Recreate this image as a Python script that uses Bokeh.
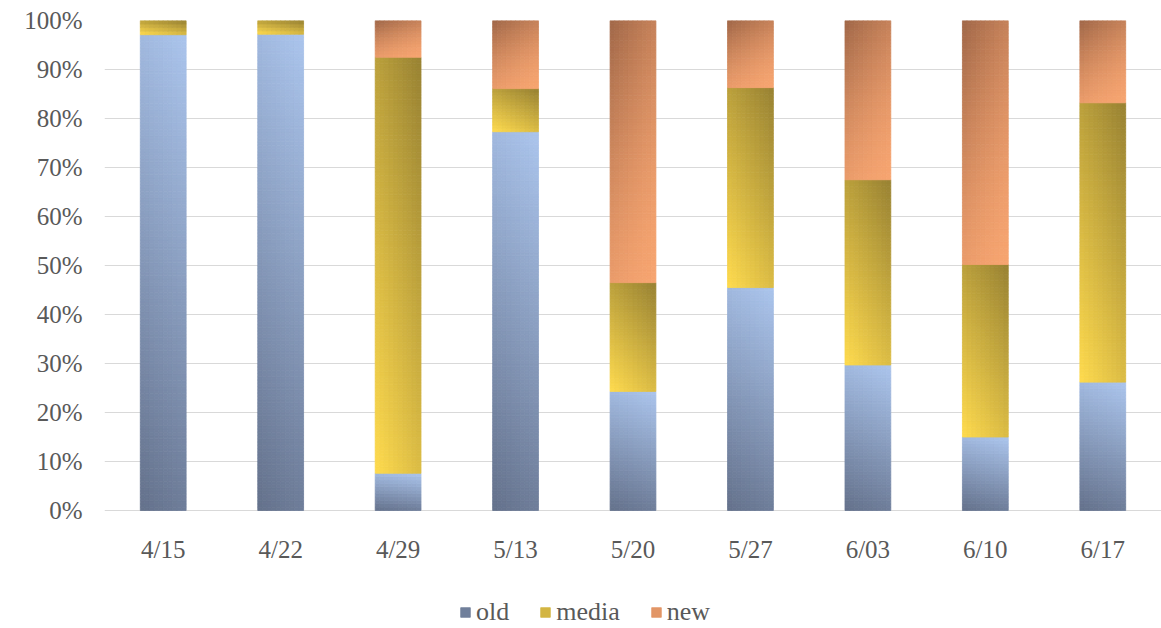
from bokeh.plotting import figure
from bokeh.models import (Range1d, FixedTicker, NumeralTickFormatter, Legend,
                          LegendItem, ColumnDataSource)
from bokeh.embed import file_html
from bokeh.resources import INLINE

# Weekly share of each group (percent of the week's total)
weeks = ["4/15", "4/22", "4/29", "5/13", "5/20", "5/27", "6/03", "6/10", "6/17"]
old = [97.1, 97.2, 7.6, 77.3, 24.3, 45.5, 29.7, 15.0, 26.2]
media = [2.9, 2.8, 84.9, 8.8, 22.2, 40.8, 37.8, 35.2, 57.0]
new = [0.0, 0.0, 7.5, 13.9, 53.5, 13.7, 32.5, 49.8, 16.8]

series = ["old", "media", "new"]
values = {"old": old, "media": media, "new": new}

BAR_WIDTH = 0.39
COLS = 10
# the plotting frame reaches down to the page bottom so that the week labels
# and the legend can live inside it, below the 0% line
PLOT_PX = 490
BELOW_PX = 118

# gradient stops per series: (colour at t=0, colour at t=1)
STOPS = {
    "old": ((0x64, 0x71, 0x8b), (0xab, 0xc5, 0xed)),
    "media": ((0xff, 0xdb, 0x4e), (0x98, 0x82, 0x33)),
    "new": ((0xf6, 0xa4, 0x70), (0xa0, 0x67, 0x48)),
}


def blend(stops, t):
    a, b = stops
    t = min(max(t, 0.0), 1.0)
    r, g, bl = (int(round(a[i] + (b[i] - a[i]) * t)) for i in range(3))
    return "#%02x%02x%02x" % (r, g, bl)


def shade(name, u, v):
    # u: 0 left -> 1 right, v: 0 bottom -> 1 top (within the segment)
    if name == "old":
        t = 0.85 * v + 0.15 * u
    elif name == "media":
        t = 0.65 * v + 0.35 * u
    else:
        t = (0.7 * v + 0.3 * (1 - u)) ** 1.6
    return blend(STOPS[name], t)


# each stacked segment is filled with a grid of small cells to form a gradient
sources = {}
for name in series:
    cells = {"left": [], "right": [], "bottom": [], "top": [], "color": []}
    for i in range(len(weeks)):
        lo = sum(values[s][i] for s in series[:series.index(name)])
        h = values[name][i]
        if h <= 0:
            continue
        cx = i + 0.5
        rows = max(3, int(round(h * 1.5)))
        for r in range(rows):
            for c in range(COLS):
                cells["left"].append(cx - BAR_WIDTH / 2 + BAR_WIDTH * c / COLS)
                cells["right"].append(cx - BAR_WIDTH / 2 + BAR_WIDTH * (c + 1) / COLS)
                cells["bottom"].append((lo + h * r / rows) / 100)
                cells["top"].append((lo + h * (r + 1) / rows) / 100)
                cells["color"].append(shade(name, (c + 0.5) / COLS, (r + 0.5) / rows))
    sources[name] = ColumnDataSource(cells)

p = figure(width=1161, height=628, output_backend="svg", toolbar_location=None,
           x_axis_location=None,
           x_range=Range1d(0, len(weeks)),
           y_range=Range1d(-BELOW_PX / PLOT_PX, 1),
           min_border_left=104, min_border_right=0, min_border_top=20,
           min_border_bottom=0)
p.outline_line_color = None
p.background_fill_color = "white"
p.border_fill_color = "white"

renderers = {}
for name in series:
    renderers[name] = p.quad(left="left", right="right", bottom="bottom",
                             top="top", source=sources[name], fill_color="color",
                             line_color="color", line_width=0.8)

label_font = "Liberation Serif"
label_color = "#595959"

# y axis
p.yaxis.ticker = FixedTicker(ticks=[k / 10 for k in range(11)])
p.yaxis.formatter = NumeralTickFormatter(format="0%")
p.yaxis.axis_line_color = None
p.yaxis.major_tick_line_color = None
p.yaxis.minor_tick_line_color = None
p.yaxis.major_label_text_font = label_font
p.yaxis.major_label_text_font_size = "25px"
p.yaxis.major_label_text_color = label_color
p.yaxis.major_label_standoff = 16

# week labels under each bar
lab_src = ColumnDataSource(dict(x=[i + 0.5 for i in range(len(weeks))],
                                y=[0.0] * len(weeks), text=weeks))
p.text(x="x", y="y", text="text", source=lab_src, y_offset=39,
       text_align="center", text_baseline="middle", text_font=label_font,
       text_font_size="25px", text_color=label_color)

p.xgrid.grid_line_color = None
p.ygrid.grid_line_color = "#d9d9d9"
p.ygrid.grid_line_width = 1

# legend swatches take a mid-gradient cell of each series
items = []
for name in series:
    n = len(sources[name].data["color"])
    items.append(LegendItem(label=name, renderers=[renderers[name]], index=n // 2))
legend = Legend(items=items, orientation="horizontal", location=(355, 1),
                label_text_font="serif", label_text_font_size="26px",
                label_text_color=label_color, glyph_width=12, glyph_height=12,
                label_standoff=5, spacing=30, border_line_color=None,
                background_fill_alpha=0, padding=4, margin=0)
p.add_layout(legend, "center")

open("out.html", "w").write(file_html(p, INLINE))
